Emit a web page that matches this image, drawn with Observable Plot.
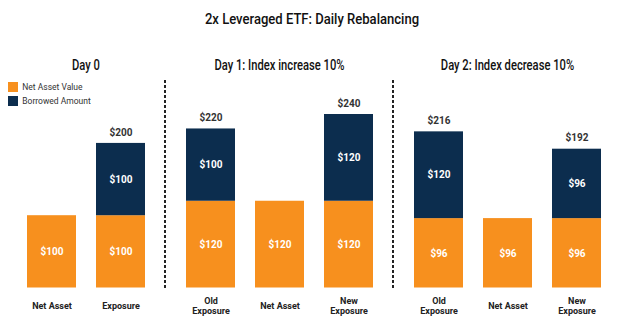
<!DOCTYPE html>
<html>
<head>
<meta charset="utf-8">
<script src="https://cdn.jsdelivr.net/npm/d3@7"></script>
<script src="https://cdn.jsdelivr.net/npm/@observablehq/plot@0.6"></script>
<style>
  body { margin: 0; background: #fff; font-family: Roboto, "Noto Sans", sans-serif; }
  #chart { position: relative; width: 624px; height: 336px; overflow: hidden; background: #fff; }
  .main-title { position: absolute; left: 0; top: 10px; width: 624px; text-align: center;
    font-size: 15px; line-height: 18px; font-weight: 500; color: #111;
    transform: scaleX(0.87); transform-origin: 312px 50%; }
  .panel { position: absolute; top: 0; }
  .panel svg { display: block; overflow: visible; }
  .panel-title { position: absolute; top: 57px; text-align: center; font-size: 14px; line-height: 16px;
    font-weight: 500; color: #111; white-space: nowrap; transform: scaleX(0.8); transform-origin: 50% 50%; }
  .sep { position: absolute; top: 80px; height: 208px; width: 1.6px;
    background: repeating-linear-gradient(to bottom, #222 0 3px, transparent 3px 5px); }
  .legend-box { position: absolute; left: 8px; top: 82px; }
  .lg-swatch { padding-bottom: 4px !important; }
</style>
</head>
<body>
<div id="chart"></div>
<script>
// ---- data ----
const chartTitle = "2x Leveraged ETF: Daily Rebalancing";
const dayTitles = ["Day 0", "Day 1: Index increase 10%", "Day 2: Index decrease 10%"];
const barDay = [0, 0, 1, 1, 1, 2, 2, 2];
const barCategories = ["Net Asset", "Exposure", "Old Exposure", "Net Asset", "New Exposure", "Old Exposure", "Net Asset", "New Exposure"];
const netAssetValue = [100, 100, 120, 120, 120, 96, 96, 96];
const borrowedAmount = [0, 100, 100, 0, 120, 120, 0, 96];
const seriesNames = ["Net Asset Value", "Borrowed Amount"];
const seriesColors = ["#F7901E", "#0C2D4E"];
const tickLabels = {
  "Net Asset": "Net Asset",
  "Exposure": "Exposure",
  "Old Exposure": "Old\nExposure",
  "New Exposure": "New\nExposure"
};
const yDomain = [0, 240];

// ---- layout ----
const panels = [
  {left: 0,   width: 165, ml: 17, mr: 10},
  {left: 165, width: 228, ml: 11, mr: 10},
  {left: 393, width: 231, ml: 11, mr: 13}
];

const chart = document.getElementById("chart");

const title = document.createElement("div");
title.className = "main-title";
title.textContent = chartTitle;
chart.appendChild(title);

dayTitles.forEach((dayTitle, day) => {
  const p = panels[day];
  const idx = barDay.map((d, i) => d === day ? i : -1).filter(i => i >= 0);
  const cats = idx.map(i => barCategories[i]);
  const rows = [];
  const totals = [];
  idx.forEach(i => {
    rows.push({cat: barCategories[i], series: seriesNames[0], value: netAssetValue[i]});
    if (borrowedAmount[i] > 0) {
      rows.push({cat: barCategories[i], series: seriesNames[1], value: borrowedAmount[i]});
      totals.push({cat: barCategories[i], total: netAssetValue[i] + borrowedAmount[i]});
    }
  });

  const plot = Plot.plot({
    width: p.width,
    height: 336,
    marginTop: 114,
    marginBottom: 48.5,
    marginLeft: p.ml,
    marginRight: p.mr,
    style: {fontFamily: "Roboto, sans-serif", background: "transparent", overflow: "visible"},
    x: {domain: cats, paddingInner: 0.29, paddingOuter: 0.145, axis: null},
    y: {domain: yDomain, axis: null},
    color: {domain: seriesNames, range: seriesColors},
    marks: [
      Plot.barY(rows, {x: "cat", y: "value", fill: "series", order: seriesNames}),
      Plot.text(rows, Plot.stackY({
        x: "cat", y: "value", z: "series", order: seriesNames,
        text: d => "$" + d.value, fill: "white", fontWeight: 700, fontSize: 10
      })),
      Plot.text(totals, {
        x: "cat", y: "total", text: d => "$" + d.total, dy: -11,
        fontWeight: 700, fontSize: 10, fill: "#333"
      }),
      Plot.text(cats, {
        x: d => d, frameAnchor: "bottom", dy: 17.5, text: d => tickLabels[d],
        lineAnchor: "middle", lineHeight: 1.12, fontWeight: 700, fontSize: 9, fill: "#222"
      })
    ]
  });

  const wrap = document.createElement("div");
  wrap.className = "panel";
  wrap.style.left = p.left + "px";
  wrap.style.width = p.width + "px";
  wrap.appendChild(plot);
  chart.appendChild(wrap);

  const t = document.createElement("div");
  t.className = "panel-title";
  t.style.left = (p.left + p.ml - 40) + "px";
  t.style.width = (p.width - p.ml - p.mr + 80) + "px";
  t.textContent = dayTitle;
  chart.appendChild(t);

  if (day > 0) {
    const s = document.createElement("div");
    s.className = "sep";
    s.style.left = (p.left - 0.8) + "px";
    chart.appendChild(s);
  }
});

const legend = Plot.legend({
  color: {domain: seriesNames, range: seriesColors},
  legend: "swatches",
  columns: 1,
  swatchSize: 10,
  className: "lg",
  style: {fontFamily: "'Liberation Sans Narrow', Roboto, sans-serif", fontSize: "8.5px", color: "#333", margin: 0}
});
const lb = document.createElement("div");
lb.className = "legend-box";
lb.appendChild(legend);
chart.appendChild(lb);
</script>
</body>
</html>
